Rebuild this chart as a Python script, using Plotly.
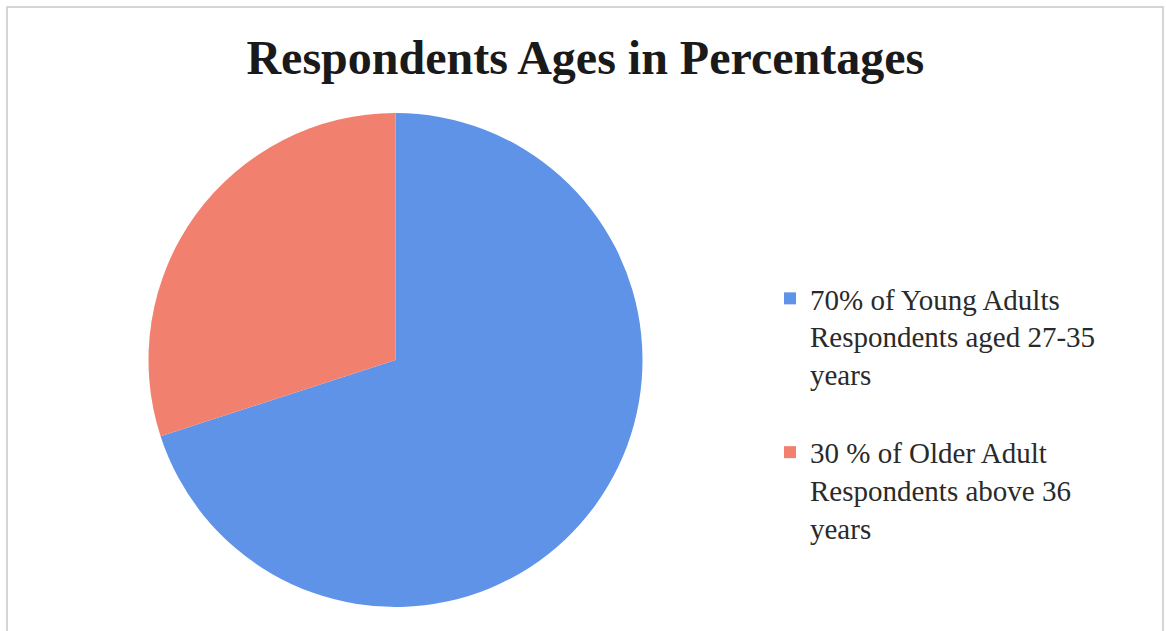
import plotly.graph_objects as go

labels = [
    "70% of Young Adults<br>Respondents aged 27-35<br>years<br> ",
    "30 % of Older Adult<br>Respondents above 36<br>years",
]
values = [70, 30]
colors = ["#5F93E8", "#F2806E"]
title_text = "Respondents Ages in Percentages"

W, H = 1166, 631
SERIF = "Liberation Serif"

fig = go.Figure(
    go.Pie(
        labels=labels,
        values=values,
        sort=False,
        direction="clockwise",
        rotation=0,
        marker=dict(colors=colors, line=dict(width=0)),
        textinfo="none",
        hoverinfo="label+percent",
        domain=dict(x=[148 / W, 643 / W], y=[24 / H, 518 / H]),
    )
)

fig.update_layout(
    width=W,
    height=H,
    autosize=False,
    margin=dict(l=0, r=0, t=0, b=0),
    paper_bgcolor="white",
    plot_bgcolor="white",
    font=dict(family=SERIF, color="#2a2a2a"),
    title=dict(
        text="<b>" + title_text + "</b>",
        x=0.502,
        xanchor="center",
        y=1 - 57 / H,
        yanchor="middle",
        font=dict(family=SERIF, size=48, color="#1a1a1a"),
    ),
    legend=dict(
        x=770 / W,
        xanchor="left",
        y=1 - 273 / H,
        yanchor="top",
        valign="top",
        font=dict(family=SERIF, size=29, color="#2a2a2a"),
        bgcolor="rgba(0,0,0,0)",
    ),
    shapes=[
        dict(
            type="rect",
            xref="paper",
            yref="paper",
            x0=7 / W,
            x1=1163 / W,
            y0=-0.05,
            y1=1 - 7 / H,
            line=dict(color="#c8c8c8", width=1.5),
            fillcolor="rgba(0,0,0,0)",
            layer="below",
        )
    ],
)

fig.write_html("out.html")
